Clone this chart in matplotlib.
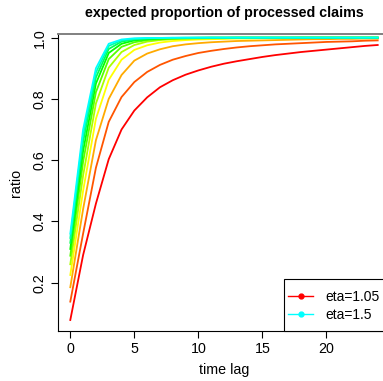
import matplotlib
matplotlib.use("Agg")
import matplotlib.pyplot as plt
from matplotlib.patches import Rectangle

plt.rcParams['font.family'] = ['Liberation Sans', 'DejaVu Sans']

lags = list(range(25))
etas = ["1.05", "1.1", "1.15", "1.2", "1.25", "1.3", "1.35", "1.4", "1.45", "1.5"]
colors = ["#FF0000", "#FF5500", "#FFAA00", "#FFFF00", "#AAFF00",
          "#55FF00", "#00FF00", "#00FF55", "#00FFAA", "#00FFFF"]

r105 = [0.078, 0.290, 0.458, 0.603, 0.700, 0.762, 0.805, 0.838, 0.861, 0.879, 0.893, 0.905, 0.915,
        0.923, 0.930, 0.937, 0.943, 0.948, 0.953, 0.957, 0.961, 0.965, 0.969, 0.973, 0.976]
r110 = [0.138, 0.360, 0.575, 0.725, 0.806, 0.855, 0.888, 0.911, 0.928, 0.940, 0.950, 0.957, 0.963,
        0.968, 0.972, 0.975, 0.978, 0.980, 0.982, 0.984, 0.986, 0.987, 0.988, 0.990, 0.991]
r115 = [0.185, 0.440, 0.665, 0.800, 0.878, 0.925, 0.948, 0.962, 0.972, 0.978, 0.982, 0.985, 0.987,
        0.989, 0.990, 0.991, 0.992, 0.993, 0.994, 0.995, 0.995, 0.996, 0.996, 0.997, 0.997]
r120 = [0.225, 0.500, 0.735, 0.862, 0.928, 0.960, 0.975, 0.984, 0.989, 0.992, 0.994, 0.995, 0.996,
        0.997, 0.997, 0.998, 0.998, 0.998, 0.999, 0.999, 0.999, 0.999, 0.999, 0.999, 0.999]
r125 = [0.260, 0.550, 0.785, 0.902, 0.953, 0.976, 0.987, 0.992, 0.995, 0.996, 0.997, 0.998, 0.998,
        0.999, 0.999, 0.999, 0.999, 0.999, 1.000, 1.000, 1.000, 1.000, 1.000, 1.000, 1.000]
r130 = [0.288, 0.595, 0.822, 0.930, 0.970, 0.985, 0.992, 0.995, 0.997, 0.998, 0.999, 0.999, 0.999,
        1.000, 1.000, 1.000, 1.000, 1.000, 1.000, 1.000, 1.000, 1.000, 1.000, 1.000, 1.000]
r135 = [0.310, 0.630, 0.850, 0.950, 0.980, 0.991, 0.995, 0.997, 0.998, 0.999, 0.999, 1.000, 1.000,
        1.000, 1.000, 1.000, 1.000, 1.000, 1.000, 1.000, 1.000, 1.000, 1.000, 1.000, 1.000]
r140 = [0.330, 0.660, 0.870, 0.963, 0.987, 0.994, 0.997, 0.998, 0.999, 0.999, 1.000, 1.000, 1.000,
        1.000, 1.000, 1.000, 1.000, 1.000, 1.000, 1.000, 1.000, 1.000, 1.000, 1.000, 1.000]
r145 = [0.346, 0.682, 0.886, 0.973, 0.991, 0.996, 0.998, 0.999, 0.999, 1.000, 1.000, 1.000, 1.000,
        1.000, 1.000, 1.000, 1.000, 1.000, 1.000, 1.000, 1.000, 1.000, 1.000, 1.000, 1.000]
r150 = [0.360, 0.700, 0.900, 0.980, 0.994, 0.998, 0.999, 0.999, 1.000, 1.000, 1.000, 1.000, 1.000,
        1.000, 1.000, 1.000, 1.000, 1.000, 1.000, 1.000, 1.000, 1.000, 1.000, 1.000, 1.000]

series = [r105, r110, r115, r120, r125, r130, r135, r140, r145, r150]

W, H = 383, 381
fig = plt.figure(figsize=(W / 100, H / 100), dpi=100)
ax = fig.add_axes([58 / W, 50 / H, 332 / W, 297 / H])

for vals, col in zip(series, colors):
    ax.plot(lags, vals, color=col, lw=1.3, solid_joinstyle='miter')

ymin, ymax = min(r105), max(r105)
pad = 0.04 * (ymax - ymin)
ax.set_ylim(ymin - pad, ymax + pad)
ax.set_xlim(-0.96, 24.96)

FS = 10.3
ax.set_xticks([0, 5, 10, 15, 20])
ax.set_yticks([0.2, 0.4, 0.6, 0.8, 1.0])
ax.set_yticklabels(["0.2", "0.4", "0.6", "0.8", "1.0"], rotation=90, va='center')
ax.tick_params(axis='both', direction='out', length=5, width=0.8, labelsize=FS, pad=3)
ax.tick_params(axis='x', pad=3)
for s in ['left', 'bottom', 'right']:
    ax.spines[s].set_linewidth(0.8)
    ax.spines[s].set_color('black')
ax.spines['top'].set_color('#808080')
ax.spines['top'].set_linewidth(1.4)

ax.set_xlabel("time lag", fontsize=FS, labelpad=5)
ax.set_ylabel("ratio", fontsize=FS, labelpad=7)
ax.set_title("expected proportion of processed claims", fontsize=FS,
             fontweight='bold', pad=12)

# legend frame (box runs past the right edge, as in the reference)
ax.add_patch(Rectangle((0.681, 0.0), 0.6, 0.175, transform=ax.transAxes,
                       facecolor='white', edgecolor='black', lw=0.8,
                       clip_on=False, zorder=4))
h1, = ax.plot([], [], color=colors[0], marker='o', markersize=3.5, lw=1.0)
h2, = ax.plot([], [], color=colors[-1], marker='o', markersize=3.5, lw=1.0)
leg = ax.legend([h1, h2], ["eta=" + etas[0], "eta=" + etas[-1]], loc='upper left',
                bbox_to_anchor=(0.681 - 4 / 332, 0.175 - 3.5 / 297), borderaxespad=0,
                fontsize=10, frameon=False, handlelength=1.85, handletextpad=0.85,
                labelspacing=0.25, borderpad=0.55)
leg.set_zorder(5)

fig.savefig("out.png", dpi=100)
